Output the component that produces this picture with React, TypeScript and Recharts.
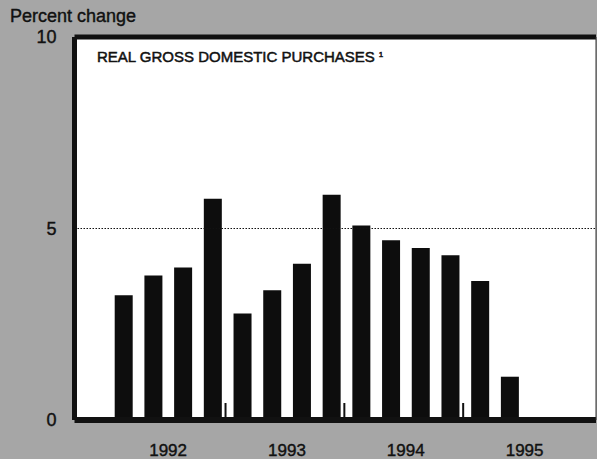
import { BarChart, Bar, XAxis, YAxis, CartesianGrid, ReferenceLine } from 'recharts'

// quarters shown on the axis; first and last slots are empty padding quarters
const quarters = [
  '1991Q4',
  '1992Q1', '1992Q2', '1992Q3', '1992Q4',
  '1993Q1', '1993Q2', '1993Q3', '1993Q4',
  '1994Q1', '1994Q2', '1994Q3', '1994Q4',
  '1995Q1', '1995Q2', '1995Q3', '1995Q4',
]

// percent change, annual rate
const purchases = [
  null,
  3.26, 3.77, 3.98, 5.78,
  2.78, 3.39, 4.08, 5.88,
  5.08, 4.69, 4.49, 4.3,
  3.63, 1.13, null, null,
]

const yTicks = [0, 5, 10]
const labelYears = ['1992', '1993', '1994', '1995']
const dividerYears = ['1992', '1993', '1994']

const data = quarters.map((q, i) => ({ quarter: q, value: purchases[i] }))

const FONT = '"Liberation Sans", Arial, sans-serif'

function QuarterTick(props: any) {
  const { x, y, payload } = props
  const value: string = payload.value
  const half = payload.offset ?? 15
  const year = value.slice(0, 4)
  const q = value.slice(4)
  if (q === 'Q2' && labelYears.includes(year)) {
    return (
      <text
        x={x + half}
        y={y + 36}
        textAnchor="middle"
        fontSize={17}
        fontFamily={FONT}
        fill="#111"
        stroke="#111"
        strokeWidth={0.4}
      >
        {year}
      </text>
    )
  }
  if (q === 'Q4' && dividerYears.includes(year)) {
    return <line x1={x + half - 2} x2={x + half - 2} y1={y - 2} y2={y - 17} stroke="#111" strokeWidth={2} />
  }
  return null
}

export default function App() {
  return (
    <div style={{ position: 'absolute', left: 0, top: 0, width: 597, height: 459, background: '#a6a6a6', fontFamily: FONT }}>
      <BarChart
        width={597}
        height={459}
        data={data}
        margin={{ top: 37, right: 0, bottom: 0, left: 0 }}
        barSize={18}
      >
        <CartesianGrid fill="#fff" horizontal={false} vertical={false} />
        <ReferenceLine y={5} stroke="#111" strokeDasharray="1.5 1.5" strokeWidth={1} />
        <XAxis
          dataKey="quarter"
          height={39}
          interval={0}
          tickSize={0}
          tickMargin={0}
          tickLine={false}
          axisLine={{ stroke: '#111', strokeWidth: 6 }}
          padding={{ left: 4.5, right: 12 }}
          tick={<QuarterTick />}
        />
        <YAxis
          width={74.5}
          domain={[0, 10]}
          ticks={yTicks}
          tickSize={0}
          tickMargin={18}
          tickLine={false}
          axisLine={{ stroke: '#111', strokeWidth: 5 }}
          tick={{ fontSize: 18, fill: '#111', fontFamily: FONT, stroke: '#111', strokeWidth: 0.4 }}
        />
        <YAxis
          yAxisId="right"
          orientation="right"
          width={1}
          domain={[0, 10]}
          tick={false}
          tickLine={false}
          axisLine={{ stroke: '#333', strokeWidth: 1 }}
        />
        <Bar dataKey="value" fill="#0d0d0d" isAnimationActive={false} />
        <ReferenceLine y={10} stroke="#111" strokeWidth={5} />
      </BarChart>
      <div
        style={{
          position: 'absolute', left: 10, top: 7, fontSize: 18, lineHeight: '18px',
          color: '#111', whiteSpace: 'nowrap', WebkitTextStroke: '0.4px #111',
        }}
      >
        Percent change
      </div>
      <div
        style={{
          position: 'absolute', left: 97, top: 49, fontSize: 15, lineHeight: '15px',
          color: '#111', whiteSpace: 'nowrap', WebkitTextStroke: '0.5px #111',
        }}
      >
        REAL GROSS DOMESTIC PURCHASES
        <sup style={{ fontSize: 8, marginLeft: 4, verticalAlign: 'top', position: 'relative', top: -2 }}>1</sup>
      </div>
    </div>
  )
}
